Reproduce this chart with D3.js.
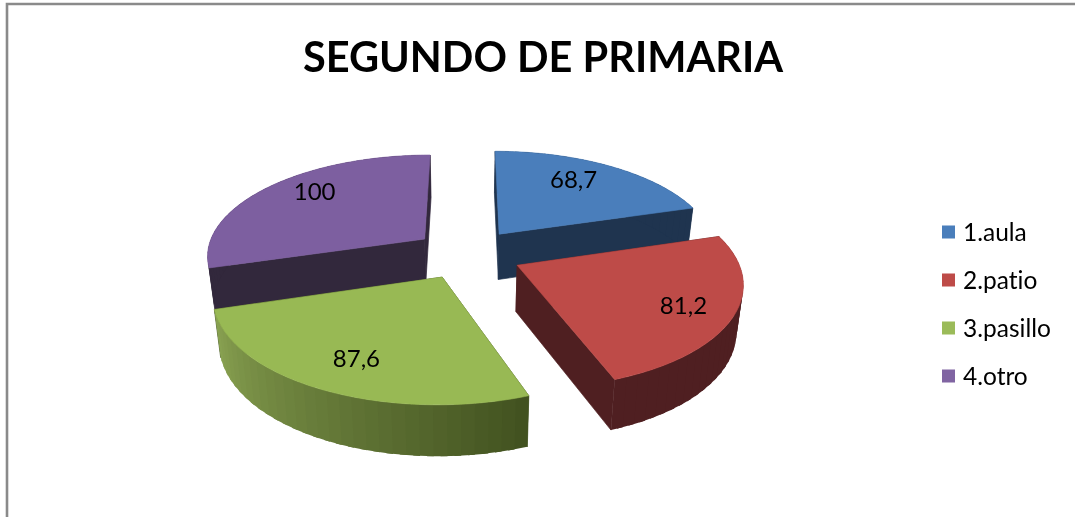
<!DOCTYPE html>
<html>
<head>
<meta charset="utf-8">
<script src="https://cdn.jsdelivr.net/npm/d3@7/dist/d3.min.js"></script>
<style>
html,body{margin:0;padding:0;background:#fff;}
svg{display:block;filter:blur(0.45px);}
text{font-family:Lato,"Open Sans",sans-serif;fill:#000;font-variant-ligatures:none;}
</style>
</head>
<body>
<svg id="chart" width="1075" height="517"></svg>
<script>
// Data
const chartTitle = "SEGUNDO DE PRIMARIA";
const categories = ["1.aula", "2.patio", "3.pasillo", "4.otro"];
const values = [68.7, 81.2, 87.6, 100];
const valueLabels = ["68,7", "81,2", "87,6", "100"];

// Styles
const topColors = ["#4a7ebb", "#be4b48", "#98b954", "#7d5fa0"];
const legendColors = ["#4a7ebb", "#be4b48", "#9bbb59", "#8064a2"];
const wallStart = ["#1f344f", "#4f1f21", "#41511f", "#32283c"];
const wallEnd = ["#1f344f", "#4f1f21", "#8ba453", "#32283c"];

// Layout
const labelRadius = [0.69, 0.73, 0.70, 0.75];
const labelNudge = [[-4, -6], [11, 4.5], [-4.5, 7], [8, -6.5]];
const cx = 467.5, cy = 253.8, horizon = -418, rx = 218.5, persp = 0.15;
const explode = 0.25, depth = 46, baseShrink = 0.975;

function project(u, v, dropped) {
  const s = 1 / (1 + persp * v);
  let x = cx + rx * u * s;
  let y = horizon + (cy - horizon) * s;
  if (dropped) {
    x = cx + (x - cx) * baseShrink;
    y += depth * (0.47 + 0.53 * s);
  }
  return [x, y];
}

const svg = d3.select("#chart");

// Frame
svg.append("path").attr("d", "M7,517V4H1075").attr("fill", "none")
  .attr("stroke", "#8a8a8a").attr("stroke-width", 2.6);

// Title
svg.append("text").attr("x", 543).attr("y", 72).attr("text-anchor", "middle")
  .attr("font-size", 41.5).attr("font-weight", 700).text(chartTitle);

// Pie
const arcs = d3.pie().sort(null)(values);
const line = d3.line();
const step = Math.PI / 60;
const slices = arcs.map((a, i) => {
  const mid = (a.startAngle + a.endAngle) / 2;
  const ou = explode * Math.sin(mid), ov = explode * Math.cos(mid);
  const rim = (t, d) => project(ou + Math.sin(t), ov + Math.cos(t), d);
  const apex = d => project(ou, ov, d);
  return {a, i, mid, ou, ov, rim, apex};
});

function angleSteps(a0, a1, delta) {
  const n = Math.max(1, Math.round((a1 - a0) / delta));
  return d3.range(n + 1).map(k => a0 + (a1 - a0) * k / n);
}

// back slices first
[3, 0, 1, 2].forEach(idx => {
  const sl = slices[idx];
  const {a, i, rim, apex} = sl;
  const g = svg.append("g");
  const wallColor = d3.scaleLinear().domain([a.startAngle, a.endAngle])
    .range([wallStart[i], wallEnd[i]]).interpolate(d3.interpolateRgb);
  // cut faces
  [a.startAngle, a.endAngle].forEach(t => {
    g.append("path")
      .attr("d", line([apex(false), rim(t, false), rim(t, true), apex(true)]) + "Z")
      .attr("fill", wallStart[i]).attr("stroke", wallStart[i]).attr("stroke-width", 0.7);
  });
  // outer wall, as overlapping strips so that no seams show
  const ts = angleSteps(a.startAngle, a.endAngle, step);
  d3.pairs(ts).forEach(([t0, t1], k) => {
    const t2 = k === ts.length - 2 ? t1 : t1 + step * 0.5;
    g.append("path")
      .attr("d", line([rim(t0, false), rim(t2, false), rim(t2, true), rim(t0, true)]) + "Z")
      .attr("fill", wallColor((t0 + t1) / 2));
  });
  // top surface
  const topPts = [apex(false)].concat(angleSteps(a.startAngle, a.endAngle, Math.PI / 180).map(t => rim(t, false)));
  g.append("path").attr("d", line(topPts) + "Z").attr("fill", topColors[i])
    .attr("stroke", topColors[i]).attr("stroke-width", 0.6);
});

// Value labels
slices.forEach(sl => {
  const r = labelRadius[sl.i];
  const p = project(sl.ou + r * Math.sin(sl.mid), sl.ov + r * Math.cos(sl.mid), false);
  svg.append("text").attr("x", p[0] + labelNudge[sl.i][0]).attr("y", p[1] + labelNudge[sl.i][1]).attr("dy", "0.35em")
    .attr("text-anchor", "middle").attr("font-size", 24).attr("fill", "#000")
    .text(valueLabels[sl.i]);
});

// Legend
const legendY = d3.scalePoint().domain(categories).range([232, 376]);
const legend = svg.append("g");
categories.forEach((c, i) => {
  legend.append("rect").attr("x", 942).attr("y", legendY(c) - 6.5)
    .attr("width", 13).attr("height", 13).attr("fill", legendColors[i]);
  legend.append("text").attr("x", 963).attr("y", legendY(c)).attr("dy", "0.35em")
    .attr("font-size", 24.5).attr("fill", "#111").text(c);
});
</script>
</body>
</html>
